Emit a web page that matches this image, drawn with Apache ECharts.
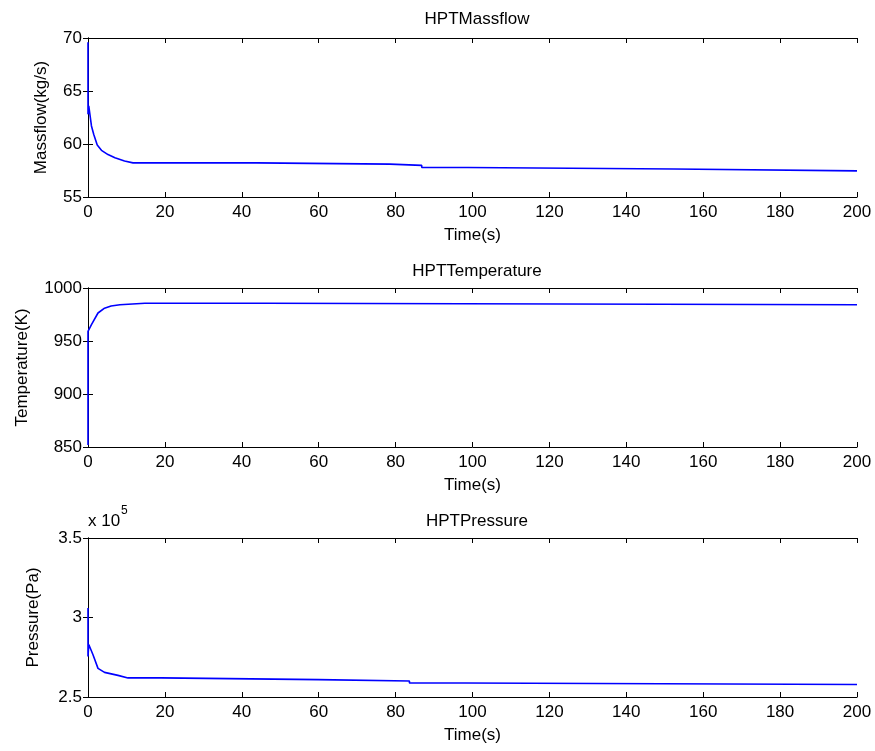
<!DOCTYPE html>
<html>
<head>
<meta charset="utf-8">
<script src="https://cdn.jsdelivr.net/npm/echarts@6/dist/echarts.min.js"></script>
<style>
  html, body { margin: 0; padding: 0; background: #fff; }
  #main { width: 875px; height: 751px; }
</style>
</head>
<body>
<div id="main"></div>
<script>
// tick labels
var timeTicks = [0, 20, 40, 60, 80, 100, 120, 140, 160, 180, 200];

// HPT massflow (kg/s)
var massTime = [0, 0, 0.2, 0.9, 1.5, 2.4, 3.5, 5.2, 7, 9.5, 11.7, 43.8, 43.8, 78.5, 78.5, 86.8, 86.8, 98.7, 98.7, 152.4, 152.4, 200];
var massVal = [69.6, 62.8, 63.6, 61.7, 60.9, 59.9, 59.4, 59.0, 58.7, 58.4, 58.22, 58.22, 58.1, 58.1, 57.98, 57.98, 57.79, 57.79, 57.64, 57.64, 57.46, 57.46];

// HPT temperature (K)
var tempTime = [0, 0, 0.9, 2.6, 4.3, 6, 8.3, 14.8, 46.2, 46.2, 200];
var tempVal = [852, 959, 965.4, 976.4, 981, 983, 984.2, 985.6, 985.6, 984.2, 984.2];

// HPT pressure (Pa)
var presTime = [0, 0, 0.2, 1.3, 2.6, 4.3, 7.8, 10.4, 19, 19, 59.9, 59.9, 83.6, 83.6, 98, 98, 200];
var presVal = [306000, 275500, 283000, 276600, 268000, 265500, 263600, 262000, 262000, 260900, 260900, 260060, 260060, 258800, 258800, 257900, 257900];

function pairs(xs, ys) {
  var out = [];
  for (var i = 0; i < xs.length; i++) {
    out.push([xs[i], ys[i]]);
  }
  return out;
}

var txt = "#000";
var font = "Liberation Sans, Arial, sans-serif";
var fs = 17;
var tops = [38, 288, 538];

var myChart = echarts.init(document.getElementById("main"));

var grids = [], xAxes = [], yAxes = [], series = [];
var yCfg = [
  { min: 55, max: 70, interval: 5, name: "Massflow(kg/s)", gap: 38 },
  { min: 850, max: 1000, interval: 50, name: "Temperature(K)", gap: 57 },
  { min: 250000, max: 350000, interval: 50000, name: "Pressure(Pa)", gap: 46 }
];
var datas = [pairs(massTime, massVal), pairs(tempTime, tempVal), pairs(presTime, presVal)];

for (var i = 0; i < 3; i++) {
  grids.push({ left: 88, right: 18, top: tops[i], height: 159, show: false });
  // bottom axis with labels
  xAxes.push({
    type: "value", gridIndex: i, min: 0, max: 200, interval: 20,
    name: "Time(s)", nameLocation: "middle", nameGap: 30,
    nameTextStyle: { color: txt, fontSize: fs, fontFamily: font },
    axisLine: { show: true, lineStyle: { color: "#000", width: 1 } },
    axisTick: { show: true, inside: true, length: 5, lineStyle: { color: "#000" } },
    axisLabel: { color: txt, fontSize: fs, fontFamily: font, margin: 7 },
    splitLine: { show: false }
  });
  // mirrored top axis
  xAxes.push({
    type: "value", gridIndex: i, position: "top", min: 0, max: 200, interval: 20,
    axisLine: { show: true, lineStyle: { color: "#000", width: 1 } },
    axisTick: { show: true, inside: true, length: 5, lineStyle: { color: "#000" } },
    axisLabel: { show: false },
    splitLine: { show: false }
  });
  var c = yCfg[i];
  yAxes.push({
    type: "value", gridIndex: i, min: c.min, max: c.max, interval: c.interval,
    name: c.name, nameLocation: "middle", nameGap: c.gap,
    nameTextStyle: { color: txt, fontSize: fs, fontFamily: font },
    axisLine: { show: true, lineStyle: { color: "#000", width: 1 } },
    axisTick: { show: true, inside: true, length: 5, lineStyle: { color: "#000" } },
    axisLabel: {
      color: txt, fontSize: fs, fontFamily: font, margin: 6,
      formatter: i == 2 ? function(v) { return String(v / 100000); } : function(v) { return String(v); }
    },
    splitLine: { show: false }
  });
  yAxes.push({
    type: "value", gridIndex: i, position: "right", min: c.min, max: c.max, interval: c.interval,
    axisLine: { show: true, lineStyle: { color: "#000", width: 1 } },
    axisTick: { show: true, inside: true, length: 5, lineStyle: { color: "#000" } },
    axisLabel: { show: false },
    splitLine: { show: false }
  });
  series.push({
    type: "line", xAxisIndex: i * 2, yAxisIndex: i * 2,
    data: datas[i], showSymbol: false, symbol: "none",
    lineStyle: { color: "#0000ff", width: 1.6 },
    animation: false
  });
}

option = {
  backgroundColor: "#fff",
  animation: false,
  title: [
    { text: "HPTMassflow", left: 472, top: 6, textAlign: "center", textStyle: { color: txt, fontSize: fs, fontWeight: "normal", fontFamily: font } },
    { text: "HPTTemperature", left: 472, top: 258, textAlign: "center", textStyle: { color: txt, fontSize: fs, fontWeight: "normal", fontFamily: font } },
    { text: "HPTPressure", left: 472, top: 508, textAlign: "center", textStyle: { color: txt, fontSize: fs, fontWeight: "normal", fontFamily: font } }
  ],
  graphic: [
    { type: "text", left: 88, top: 513, style: { text: "x 10", fontSize: fs, fontFamily: font, fill: txt } },
    { type: "text", left: 121, top: 505, style: { text: "5", fontSize: 12, fontFamily: font, fill: txt } }
  ],
  grid: grids,
  xAxis: xAxes,
  yAxis: yAxes,
  series: series
};
myChart.setOption(option);
</script>
</body>
</html>
